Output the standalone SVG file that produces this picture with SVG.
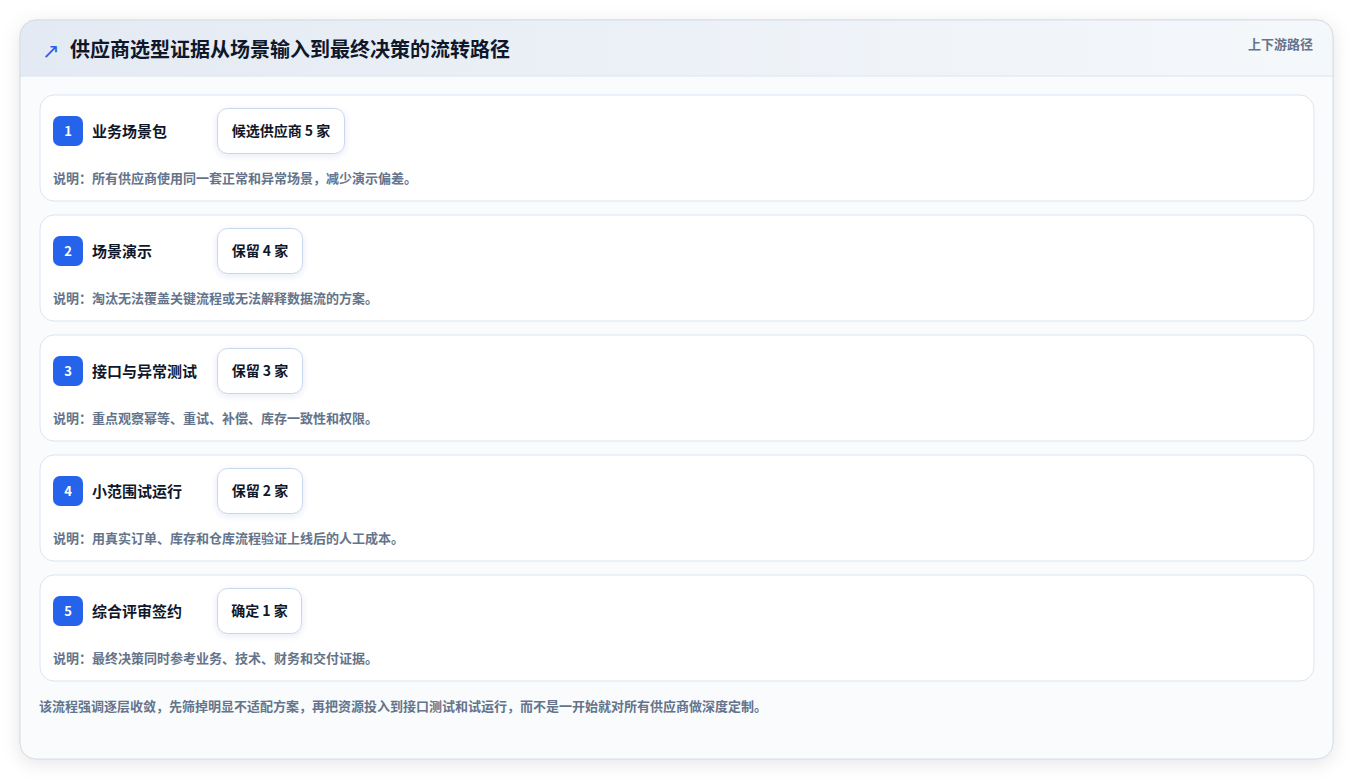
<svg xmlns="http://www.w3.org/2000/svg" width="1354" height="780" viewBox="0 0 1354 780">
<defs>
<linearGradient id="hdr" x1="0" y1="0" x2="1" y2="0"><stop offset="0" stop-color="#e4eaf3"/><stop offset="1" stop-color="#f5f8fb"/></linearGradient>
<filter id="cardShadow" x="-5%" y="-5%" width="110%" height="110%"><feDropShadow dx="0" dy="4" stdDeviation="9" flood-color="#0f172a" flood-opacity="0.10"/></filter>
<filter id="pillShadow" x="-20%" y="-30%" width="140%" height="160%"><feDropShadow dx="0" dy="2" stdDeviation="3" flood-color="#1e40af" flood-opacity="0.10"/></filter>
<clipPath id="cardClip"><rect x="20" y="20" width="1313" height="739" rx="16"/></clipPath>
<style>
text{font-family:"Noto Sans CJK SC","Noto Sans",sans-serif}
.title{font-size:20px;font-weight:700;fill:#0f172a}
.icon{font-size:21px;fill:#2563eb;font-family:"DejaVu Sans","Noto Sans CJK SC",sans-serif}
.tag{font-size:13px;font-weight:700;fill:#64748b}
.row{fill:#ffffff;stroke:#dbe5f1;stroke-width:1}
.badge{fill:#2563eb}
.num{font-size:13px;font-weight:700;fill:#ffffff;text-anchor:middle}
.lbl{font-size:15px;font-weight:700;fill:#0f172a}
.pill{fill:#ffffff;stroke:#c6d7ee;stroke-width:1;filter:url(#pillShadow)}
.ptxt{font-size:14px;font-weight:700;fill:#0f172a;text-anchor:middle}
.desc{font-size:13px;font-weight:700;fill:#64748b}
</style>
</defs>
<rect width="1354" height="780" fill="#ffffff"/>
<g id="card">
<rect x="20" y="20" width="1313" height="739" rx="16" fill="#f8fafc" stroke="#d5dde8" filter="url(#cardShadow)"/>
<g clip-path="url(#cardClip)">
<rect x="20" y="20" width="1313" height="56" fill="url(#hdr)"/>
<line x1="20" y1="76" x2="1333" y2="76" stroke="#dbe5f1"/>
<rect x="20" y="77" width="1313" height="682" fill="#f9fbfd"/>
</g>
<rect x="20" y="20" width="1313" height="739" rx="16" fill="none" stroke="#d5dde8"/>
</g>
<g id="header">
<text class="icon" x="42" y="58">↗</text>
<text class="title" x="70" y="57">供应商选型证据从场景输入到最终决策的流转路径</text>
<text class="tag" x="1313" y="49" text-anchor="end">上下游路径</text>
</g>
<g id="step1">
<rect class="row" x="40" y="95" width="1274" height="106" rx="14"/>
<rect class="badge" x="53" y="116" width="30" height="30" rx="7"/>
<text class="num" x="68" y="135.5">1</text>
<text class="lbl" x="92" y="137">业务场景包</text>
<rect class="pill" x="217.5" y="108.5" width="127" height="45" rx="10"/>
<text class="ptxt" x="281" y="135.5">候选供应商 5 家</text>
<text class="desc" x="53" y="182.5">说明：所有供应商使用同一套正常和异常场景，减少演示偏差。</text>
</g>
<g id="step2">
<rect class="row" x="40" y="215" width="1274" height="106" rx="14"/>
<rect class="badge" x="53" y="236" width="30" height="30" rx="7"/>
<text class="num" x="68" y="255.5">2</text>
<text class="lbl" x="92" y="257">场景演示</text>
<rect class="pill" x="217.5" y="228.5" width="85" height="45" rx="10"/>
<text class="ptxt" x="260" y="255.5">保留 4 家</text>
<text class="desc" x="53" y="302.5">说明：淘汰无法覆盖关键流程或无法解释数据流的方案。</text>
</g>
<g id="step3">
<rect class="row" x="40" y="335" width="1274" height="106" rx="14"/>
<rect class="badge" x="53" y="356" width="30" height="30" rx="7"/>
<text class="num" x="68" y="375.5">3</text>
<text class="lbl" x="92" y="377">接口与异常测试</text>
<rect class="pill" x="217.5" y="348.5" width="85" height="45" rx="10"/>
<text class="ptxt" x="260" y="375.5">保留 3 家</text>
<text class="desc" x="53" y="422.5">说明：重点观察幂等、重试、补偿、库存一致性和权限。</text>
</g>
<g id="step4">
<rect class="row" x="40" y="455" width="1274" height="106" rx="14"/>
<rect class="badge" x="53" y="476" width="30" height="30" rx="7"/>
<text class="num" x="68" y="495.5">4</text>
<text class="lbl" x="92" y="497">小范围试运行</text>
<rect class="pill" x="217.5" y="468.5" width="85" height="45" rx="10"/>
<text class="ptxt" x="260" y="495.5">保留 2 家</text>
<text class="desc" x="53" y="542.5">说明：用真实订单、库存和仓库流程验证上线后的人工成本。</text>
</g>
<g id="step5">
<rect class="row" x="40" y="575" width="1274" height="106" rx="14"/>
<rect class="badge" x="53" y="596" width="30" height="30" rx="7"/>
<text class="num" x="68" y="615.5">5</text>
<text class="lbl" x="92" y="617">综合评审签约</text>
<rect class="pill" x="217.5" y="588.5" width="84" height="45" rx="10"/>
<text class="ptxt" x="259.5" y="615.5">确定 1 家</text>
<text class="desc" x="53" y="662.5">说明：最终决策同时参考业务、技术、财务和交付证据。</text>
</g>
<g id="connectors"></g>
<text class="desc" x="39" y="711">该流程强调逐层收敛，先筛掉明显不适配方案，再把资源投入到接口测试和试运行，而不是一开始就对所有供应商做深度定制。</text>
</svg>
